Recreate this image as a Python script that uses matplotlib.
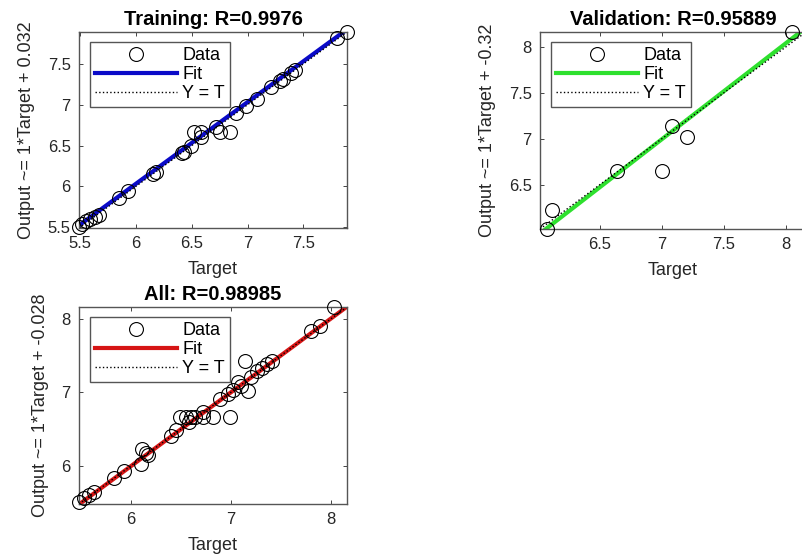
import matplotlib
matplotlib.use("Agg")
import matplotlib.pyplot as plt

plt.rcParams["font.family"] = ["Liberation Sans", "DejaVu Sans"]

# Training panel
train_target = [5.49, 5.52, 5.55, 5.59, 5.63, 5.67, 5.85, 5.93, 6.15, 6.18, 6.41, 6.43, 6.49,
                6.52, 6.58, 6.58, 6.72, 6.75, 6.84, 6.90, 6.99, 7.08, 7.21, 7.29, 7.32, 7.39,
                7.42, 7.80, 7.89]
train_output = [5.50, 5.54, 5.57, 5.60, 5.62, 5.65, 5.86, 5.94, 6.15, 6.17, 6.41, 6.42, 6.50,
                6.66, 6.67, 6.60, 6.73, 6.67, 6.66, 6.90, 6.99, 7.07, 7.22, 7.29, 7.32, 7.39,
                7.42, 7.82, 7.89]

# Validation panel
val_target = [6.08, 6.12, 6.64, 7.00, 7.08, 7.20, 8.05]
val_output = [6.02, 6.23, 6.655, 6.655, 7.14, 7.02, 8.16]

# All panel
all_target = [5.48, 5.53, 5.58, 5.63, 5.83, 5.93, 6.10, 6.11, 6.15, 6.17, 6.40, 6.45, 6.49,
              6.55, 6.60, 6.64, 6.72, 6.72, 6.82, 6.99, 6.58, 6.89, 6.97, 7.02, 7.07, 7.10,
              7.17, 7.14, 7.20, 7.26, 7.31, 7.36, 7.41, 7.80, 7.89, 8.03]
all_output = [5.51, 5.56, 5.60, 5.64, 5.84, 5.93, 6.02, 6.23, 6.18, 6.15, 6.40, 6.48, 6.66,
              6.67, 6.66, 6.66, 6.66, 6.73, 6.66, 6.66, 6.59, 6.91, 6.98, 7.03, 7.14, 7.08,
              7.02, 7.43, 7.21, 7.29, 7.33, 7.38, 7.42, 7.84, 7.90, 8.16]

titles = ["Training: R=0.9976", "Validation: R=0.95889", "All: R=0.98985"]
fit_slope = [1.0, 1.045, 1.004]
fit_intercept = [0.032, -0.32, -0.028]
fit_colors = ["#0a0ac8", "#2ee02e", "#d61515"]
ticks = [[5.5, 6, 6.5, 7, 7.5], [6.5, 7, 7.5, 8], [6, 7, 8]]

W, H = 803, 555
# pixel boxes: left, top, right, bottom
boxes = [(79, 32, 347, 228), (540, 32, 806, 229), (79, 307, 347, 504)]

fig = plt.figure(figsize=(W / 100, H / 100), dpi=100)

panels = [(train_target, train_output), (val_target, val_output), (all_target, all_output)]
for i, (t, o) in enumerate(panels):
    l, tp, r, b = boxes[i]
    ax = fig.add_axes([l / W, 1 - b / H, (r - l) / W, (b - tp) / H])
    lo = min(min(t), min(o))
    hi = max(max(t), max(o))
    lims = [lo, hi]
    m, c = fit_slope[i], fit_intercept[i]
    ax.plot(t, o, "o", mfc="none", mec="black", ms=10, mew=0.8, label="Data", clip_on=False, zorder=3)
    ax.plot(lims, [m * lims[0] + c, m * lims[1] + c], color=fit_colors[i], lw=3, label="Fit")
    ax.plot(lims, lims, "k:", lw=1, label="Y = T")
    ax.set_xlim(lims)
    ax.set_ylim(lims)
    ax.set_xticks(ticks[i])
    ax.set_yticks(ticks[i])
    ax.set_xticklabels([f"{v:g}" for v in ticks[i]])
    ax.set_yticklabels([f"{v:g}" for v in ticks[i]])
    ax.tick_params(direction="in", top=True, right=True, length=3, width=0.6,
                   labelsize=12, colors="#262626", pad=6)
    for s in ax.spines.values():
        s.set_color("#555555")
        s.set_linewidth(1)
    ax.set_xlabel("Target", fontsize=13, color="#262626", labelpad=7)
    ax.set_ylabel(f"Output ~= {m:.2g}*Target + {c:.2g}", fontsize=13, color="#262626", labelpad=9)
    ax.set_title(titles[i], fontsize=14.5, fontweight="bold", pad=5)
    w_ax = r - l
    h_ax = b - tp
    leg = ax.legend(loc="upper left", bbox_to_anchor=(11 / w_ax, 1 - 10 / h_ax), borderaxespad=0,
                    fontsize=13, fancybox=False, framealpha=1, edgecolor="#555555",
                    handlelength=4.5, handletextpad=0.3, labelspacing=0.1, borderpad=0.3)
    leg.get_frame().set_linewidth(1)

fig.savefig("out.png", dpi=100)
